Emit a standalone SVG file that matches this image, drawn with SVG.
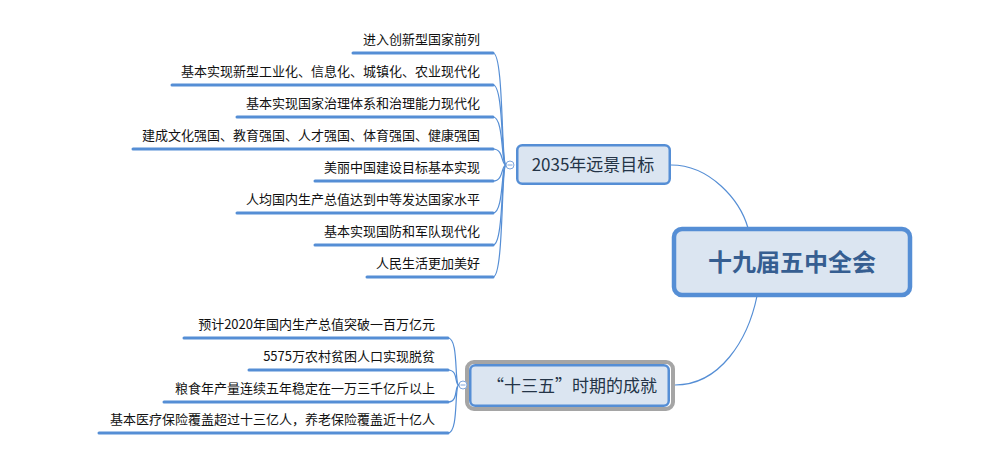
<svg xmlns="http://www.w3.org/2000/svg" width="996" height="463" viewBox="0 0 996 463">
<style>
.leaf{font-family:"Noto Sans CJK SC","Liberation Sans",sans-serif;font-size:13px;fill:#111;text-anchor:end}
.ul{stroke:#558ed5;stroke-width:3;stroke-linecap:round;fill:none}
.conn{stroke:#558ed5;stroke-width:1.2;fill:none}
.node{fill:#dbe5f1;stroke:#558ed5}
.ntext{font-family:"Noto Sans CJK SC","Liberation Sans",sans-serif;font-size:17px;fill:#243447;text-anchor:middle}
.col{fill:#fff;stroke:#7fa6dc;stroke-width:1}
</style>
<rect width="996" height="463" fill="#ffffff"/>
<g id="connectors">
<path class="conn" d="M671,165 C710,165 740,200 748,228"/>
<path class="conn" d="M757,296 C748,340 720,385 675,385"/>
<path class="conn" d="M506,165 C501,165 504,53 493,53"/>
<path class="conn" d="M506,165 C501,165 504,85 493,85"/>
<path class="conn" d="M506,165 C501,165 504,117 493,117"/>
<path class="conn" d="M506,165 C501,165 504,149 493,149"/>
<path class="conn" d="M506,165 C501,165 504,181 493,181"/>
<path class="conn" d="M506,165 C501,165 504,213 493,213"/>
<path class="conn" d="M506,165 C501,165 504,245 493,245"/>
<path class="conn" d="M506,165 C501,165 504,277 493,277"/>
<path class="conn" d="M459,385 C454,385 459,338 448,338"/>
<path class="conn" d="M459,385 C454,385 459,370 448,370"/>
<path class="conn" d="M459,385 C454,385 459,402 448,402"/>
<path class="conn" d="M459,385 C454,385 459,433 448,433"/>
</g>
<g id="central">
<rect class="node" x="674" y="229" width="236" height="66" rx="8" stroke-width="4.5"/>
<text x="792" y="271" font-family="'Noto Sans CJK SC','Liberation Sans',sans-serif" font-size="24" font-weight="bold" fill="#365e91" text-anchor="middle">十九届五中全会</text>
</g>
<g id="goal2035">
<rect class="node" x="517.25" y="145.25" width="152.5" height="38.5" rx="5" stroke-width="2.5"/>
<text class="ntext" x="593" y="171">2035年远景目标</text>
<circle class="col" cx="510" cy="165" r="4"/>
<line x1="507.5" y1="165" x2="512.5" y2="165" stroke="#7fa6dc" stroke-width="1"/>
</g>
<g id="achieve135">
<rect x="467" y="362" width="206" height="47" rx="7" fill="none" stroke="#a5a5a5" stroke-width="4"/>
<rect class="node" x="470.25" y="365.25" width="198.5" height="40.5" rx="5" stroke-width="2.5"/>
<text class="ntext" x="572" y="392">“十三五”时期的成就</text>
<circle class="col" cx="463" cy="385" r="4"/>
<line x1="460.5" y1="385" x2="465.5" y2="385" stroke="#7fa6dc" stroke-width="1"/>
</g>
<g id="leaf1"><line class="ul" x1="353" y1="53" x2="493" y2="53"/><text class="leaf" x="480" y="44">进入创新型国家前列</text></g>
<g id="leaf2"><line class="ul" x1="172" y1="85" x2="493" y2="85"/><text class="leaf" x="480" y="76">基本实现新型工业化、信息化、城镇化、农业现代化</text></g>
<g id="leaf3"><line class="ul" x1="237" y1="117" x2="493" y2="117"/><text class="leaf" x="480" y="108">基本实现国家治理体系和治理能力现代化</text></g>
<g id="leaf4"><line class="ul" x1="133" y1="149" x2="493" y2="149"/><text class="leaf" x="480" y="140">建成文化强国、教育强国、人才强国、体育强国、健康强国</text></g>
<g id="leaf5"><line class="ul" x1="315" y1="181" x2="493" y2="181"/><text class="leaf" x="480" y="172">美丽中国建设目标基本实现</text></g>
<g id="leaf6"><line class="ul" x1="237" y1="213" x2="493" y2="213"/><text class="leaf" x="480" y="204">人均国内生产总值达到中等发达国家水平</text></g>
<g id="leaf7"><line class="ul" x1="315" y1="245" x2="493" y2="245"/><text class="leaf" x="480" y="236">基本实现国防和军队现代化</text></g>
<g id="leaf8"><line class="ul" x1="367" y1="277" x2="493" y2="277"/><text class="leaf" x="480" y="268">人民生活更加美好</text></g>
<g id="leaf9"><line class="ul" x1="184" y1="338" x2="448" y2="338"/><text class="leaf" x="435" y="329">预计2020年国内生产总值突破一百万亿元</text></g>
<g id="leaf10"><line class="ul" x1="249" y1="370" x2="448" y2="370"/><text class="leaf" x="435" y="361">5575万农村贫困人口实现脱贫</text></g>
<g id="leaf11"><line class="ul" x1="164" y1="402" x2="448" y2="402"/><text class="leaf" x="435" y="393">粮食年产量连续五年稳定在一万三千亿斤以上</text></g>
<g id="leaf12"><line class="ul" x1="99" y1="433" x2="448" y2="433"/><text class="leaf" x="435" y="424">基本医疗保险覆盖超过十三亿人，养老保险覆盖近十亿人</text></g>
</svg>
